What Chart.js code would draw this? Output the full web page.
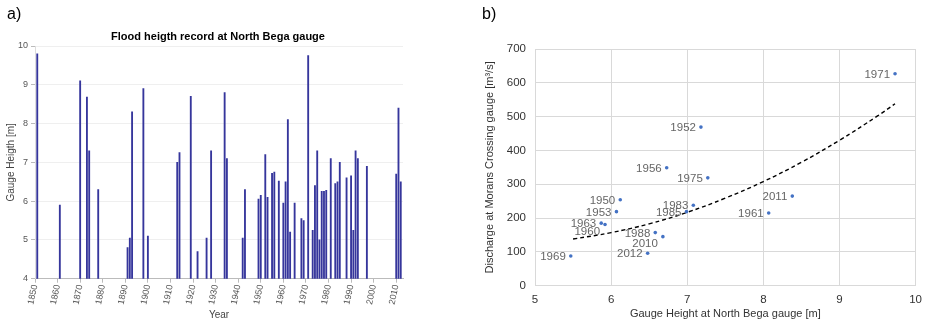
<!DOCTYPE html>
<html>
<head>
<meta charset="utf-8">
<script src="https://cdn.jsdelivr.net/npm/chart.js@4.4.1/dist/chart.umd.min.js"></script>
<style>
  html, body { margin: 0; padding: 0; background: #fff; }
  #wrapA { position: absolute; left: 0; top: 0; width: 470px; height: 324px; }
  #wrapB { position: absolute; left: 470px; top: 0; width: 459px; height: 324px; }
</style>
</head>
<body>
<div id="wrapA"><canvas id="floodChart" width="470" height="324"></canvas></div>
<div id="wrapB"><canvas id="dischargeChart" width="459" height="324"></canvas></div>
<script>
// a) flood record
const floodYears = [1851, 1861, 1870, 1873, 1874, 1878, 1891, 1892, 1893, 1898, 1900,
  1913, 1914, 1919, 1922, 1926, 1928, 1934, 1935, 1942, 1943, 1949, 1950, 1952, 1953,
  1955, 1956, 1958, 1960, 1961, 1962, 1963, 1965, 1968, 1969, 1971, 1973, 1974, 1975,
  1976, 1977, 1978, 1979, 1981, 1983, 1984, 1985, 1988, 1990, 1991, 1992, 1993, 1997,
  2010, 2011, 2012];
const floodHeights = [9.8, 5.9, 9.1, 8.68, 7.3, 6.3, 4.8, 5.05, 8.3, 8.9, 5.1,
  7.0, 7.25, 8.7, 4.7, 5.05, 7.3, 8.8, 7.1, 5.05, 6.3, 6.05, 6.15, 7.2, 6.1,
  6.72, 6.75, 6.52, 5.95, 6.5, 8.1, 5.2, 5.95, 5.55, 5.5, 9.75, 5.25, 6.4, 7.3,
  5.0, 6.25, 6.25, 6.28, 7.1, 6.45, 6.5, 7.0, 6.6, 6.65, 5.25, 7.3, 7.1, 6.9,
  6.7, 8.4, 6.5];
const yearTicks = [1850, 1860, 1870, 1880, 1890, 1900, 1910, 1920, 1930, 1940,
  1950, 1960, 1970, 1980, 1990, 2000, 2010];

// b) gauge height vs discharge
const eventYears = ['1971', '1952', '1956', '1975', '2011', '1961', '1950', '1953', '1963',
  '1960', '1983', '1985', '1988', '2010', '2012', '1969'];
const eventHeights = [9.73, 7.18, 6.73, 7.27, 8.38, 8.07, 6.12, 6.07, 5.87,
  5.92, 7.08, 6.99, 6.58, 6.68, 6.48, 5.47];
const eventDischarge = [627, 469, 349, 319, 265, 215, 254, 219, 185,
  181, 238, 219, 157, 145, 96, 88];
const trendHeights = [5.5, 6, 6.5, 7, 7.5, 8, 8.5, 9, 9.5, 9.73];
const trendDischarge = [138, 157, 183, 217, 259, 308, 365, 430, 502, 538];

const FONT = '"Liberation Sans", Arial, Helvetica, sans-serif';

const panelText = {
  id: 'panelText',
  afterDraw(chart, args, opts) {
    const ctx = chart.ctx;
    ctx.save();
    opts.items.forEach(t => {
      ctx.font = t.font;
      ctx.fillStyle = t.color || '#000';
      ctx.textAlign = t.align || 'left';
      ctx.textBaseline = 'middle';
      ctx.fillText(t.text, t.x, t.y);
    });
    ctx.restore();
  }
};

new Chart(document.getElementById('floodChart'), {
  type: 'bar',
  data: {
    datasets: [{
      data: floodYears.map((yr, i) => ({ x: yr, y: floodHeights[i] })),
      backgroundColor: '#36369c',
      barThickness: 1.2
    }]
  },
  options: {
    responsive: false,
    animation: false,
    layout: { padding: { left: 0, right: 67, top: 46, bottom: 0 } },
    plugins: {
      legend: { display: false },
      tooltip: { enabled: false },
      panelText: {
        items: [
          { text: 'a)', x: 7, y: 15, font: '16px ' + FONT },
          { text: 'Flood heigth record at North Bega gauge', x: 218, y: 37,
            font: 'bold 11px ' + FONT, align: 'center' }
        ]
      }
    },
    scales: {
      x: {
        type: 'linear',
        offset: false,
        min: 1850,
        max: 2013,
        afterFit: s => { s.height = 45.3; },
        afterBuildTicks: s => { s.ticks = yearTicks.map(v => ({ value: v })); },
        ticks: {
          autoSkip: false,
          minRotation: 78,
          maxRotation: 78,
          padding: 1,
          color: '#555',
          font: { family: FONT, size: 9 },
          callback: v => String(v)
        },
        grid: { offset: false, drawOnChartArea: false, drawTicks: true, tickLength: 4, color: '#bbb' },
        border: { color: '#bbb' },
        title: { display: true, text: 'Year', color: '#444', font: { family: FONT, size: 10 },
          padding: { top: 0, bottom: 3 } }
      },
      y: {
        min: 4,
        max: 10,
        afterFit: s => { s.width = 35; },
        ticks: { stepSize: 1, padding: 3, color: '#555', font: { family: FONT, size: 9 } },
        grid: { color: '#efefef', tickLength: 4, tickColor: '#bbb' },
        border: { color: '#ddd' },
        title: { display: true, text: 'Gauge Heigth [m]', color: '#444',
          font: { family: FONT, size: 10 }, padding: { top: 5, bottom: 0 } }
      }
    }
  },
  plugins: [panelText]
});

const pointLabels = {
  id: 'pointLabels',
  afterDatasetsDraw(chart) {
    const ctx = chart.ctx;
    const meta = chart.getDatasetMeta(0);
    const shiftDown = { '1960': 6, '2010': 6 };
    ctx.save();
    ctx.font = '11.5px ' + FONT;
    ctx.fillStyle = '#666';
    ctx.textAlign = 'right';
    ctx.textBaseline = 'middle';
    meta.data.forEach((pt, i) => {
      const lab = eventYears[i];
      ctx.fillText(lab, pt.x - 5, pt.y + 1 + (shiftDown[lab] || 0));
    });
    ctx.restore();
  }
};

new Chart(document.getElementById('dischargeChart'), {
  type: 'scatter',
  data: {
    datasets: [{
      data: eventHeights.map((h, i) => ({ x: h, y: eventDischarge[i] })),
      backgroundColor: '#4472c4',
      borderColor: '#4472c4',
      pointRadius: 1.8,
      borderWidth: 0
    }, {
      type: 'line',
      data: trendHeights.map((h, i) => ({ x: h, y: trendDischarge[i] })),
      borderColor: '#000',
      borderWidth: 1.4,
      borderDash: [4, 3],
      pointRadius: 0,
      tension: 0.4,
      fill: false
    }]
  },
  options: {
    responsive: false,
    animation: false,
    layout: { padding: { left: 0, right: 8, top: 49, bottom: 0 } },
    plugins: {
      legend: { display: false },
      tooltip: { enabled: false },
      panelText: {
        items: [{ text: 'b)', x: 12, y: 15, font: '16px ' + FONT }]
      }
    },
    scales: {
      x: {
        type: 'linear',
        min: 5,
        max: 10,
        afterFit: s => { s.height = 38.3; },
        ticks: { stepSize: 1, padding: 7, color: '#333', font: { family: FONT, size: 11.5 } },
        grid: { color: '#d9d9d9', drawTicks: false },
        border: { color: '#d9d9d9' },
        title: { display: true, text: 'Gauge Height at North Bega gauge [m]', color: '#333',
          font: { family: FONT, size: 11 }, padding: { top: 0, bottom: 3 } }
      },
      y: {
        min: 0,
        max: 700,
        afterFit: s => { s.width = 65; },
        ticks: { stepSize: 100, padding: 9, color: '#333', font: { family: FONT, size: 11.5 } },
        grid: { color: '#d9d9d9', drawTicks: false },
        border: { color: '#d9d9d9' },
        title: { display: true, text: 'Discharge at Morans Crossing gauge [m³/s]', color: '#333',
          font: { family: FONT, size: 11 }, padding: { top: 13, bottom: 0 } }
      }
    }
  },
  plugins: [panelText, pointLabels]
});
</script>
</body>
</html>
